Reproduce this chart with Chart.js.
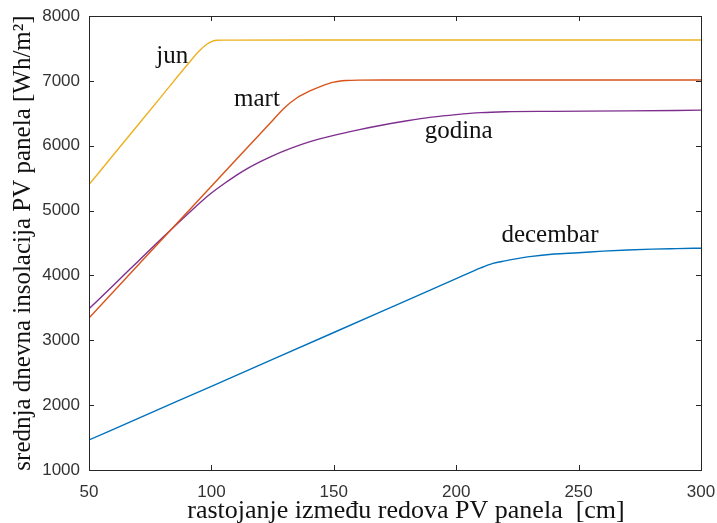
<!DOCTYPE html>
<html>
<head>
<meta charset="utf-8">
<script src="https://cdn.jsdelivr.net/npm/chart.js@4.4.1/dist/chart.umd.min.js"></script>
<style>
  html, body { margin: 0; padding: 0; background: #fff; }
  #wrap { width: 717px; height: 523px; }
</style>
</head>
<body>
<div id="wrap"><canvas id="chart" width="717" height="523"></canvas></div>
<script>
// values (x in cm, y in Wh/m2)
const junX = [50, 60, 70, 80, 90, 95, 98, 100, 102, 105, 150, 300];
const junY = [5400, 5860, 6320, 6780, 7240, 7460, 7560, 7605, 7625, 7628, 7630, 7630];

const martX = [50, 75, 100, 125, 130, 135, 140, 145, 150, 155, 160, 170, 300];
const martY = [3345, 4360, 5375, 6390, 6590, 6740, 6840, 6920, 6980, 7005, 7012, 7013, 7013];

const godinaX = [50, 60, 70, 80, 90, 95, 100, 105, 110, 115, 120, 125, 130, 140, 150, 160, 170, 180, 190, 200, 210, 220, 240, 270, 300];
const godinaY = [3486, 3850, 4215, 4580, 4935, 5110, 5270, 5410, 5540, 5655, 5755, 5845, 5925, 6060, 6160, 6245, 6320, 6385, 6440, 6480, 6510, 6524, 6530, 6537, 6548];

const decembarX = [50, 75, 100, 125, 150, 175, 200, 210, 215, 220, 225, 230, 240, 250, 260, 270, 280, 290, 300];
const decembarY = [1463, 1877, 2290, 2705, 3120, 3535, 3950, 4115, 4185, 4225, 4260, 4290, 4330, 4350, 4375, 4393, 4405, 4413, 4420];

const seriesNames = ['jun', 'mart', 'godina', 'decembar'];
const seriesColors = ['#EDB120', '#D95319', '#7E2F8E', '#0072BD'];

// text labels next to the curves, in data coordinates
const labelX = [84, 118.6, 201, 238.3];
const labelY = [7377, 6713, 6225, 4613];

const xTicks = [50, 100, 150, 200, 250, 300];
const yTicks = [1000, 2000, 3000, 4000, 5000, 6000, 7000, 8000];

const xTitle = 'rastojanje između redova PV panela  [cm]';
const yTitle = 'srednja dnevna insolacija PV panela [Wh/m²]';

const toPoints = (xs, ys) => xs.map((x, i) => ({ x, y: ys[i] }));
const allX = [junX, martX, godinaX, decembarX];
const allY = [junY, martY, godinaY, decembarY];

const datasets = seriesNames.map((name, i) => ({
  label: name,
  data: toPoints(allX[i], allY[i]),
  borderColor: seriesColors[i],
  backgroundColor: 'transparent',
  borderWidth: 1.4,
  pointRadius: 0,
  cubicInterpolationMode: 'monotone',
}));

const serif = '"Liberation Serif", "Times New Roman", serif';

// MATLAB-like box with inward ticks on all four sides, plus the text labels
const boxPlugin = {
  id: 'box',
  afterDatasetsDraw(chart) {
    const { ctx, chartArea: a, scales: { x, y } } = chart;
    const len = 5;
    ctx.save();
    ctx.strokeStyle = '#262626';
    ctx.lineWidth = 1;
    ctx.beginPath();
    for (const v of xTicks) {
      const px = Math.round(x.getPixelForValue(v)) + 0.5;
      ctx.moveTo(px, a.bottom); ctx.lineTo(px, a.bottom - len);
      ctx.moveTo(px, a.top); ctx.lineTo(px, a.top + len);
    }
    for (const v of yTicks) {
      const py = Math.round(y.getPixelForValue(v)) + 0.5;
      ctx.moveTo(a.left, py); ctx.lineTo(a.left + len, py);
      ctx.moveTo(a.right, py); ctx.lineTo(a.right - len, py);
    }
    ctx.stroke();
    ctx.strokeRect(Math.round(a.left) + 0.5, Math.round(a.top) + 0.5,
      Math.round(a.right - a.left), Math.round(a.bottom - a.top));

    ctx.fillStyle = '#111';
    ctx.font = '25px ' + serif;
    ctx.textAlign = 'center';
    ctx.textBaseline = 'middle';
    seriesNames.forEach((n, i) => {
      ctx.fillText(n, x.getPixelForValue(labelX[i]), y.getPixelForValue(labelY[i]));
    });

    // x axis title, sitting a little right of the axis centre as in the original
    ctx.font = '26px ' + serif;
    ctx.textBaseline = 'alphabetic';
    ctx.fillText(xTitle, (a.left + a.right) / 2 + 11, 518);
    ctx.restore();
  },
};

const tickFont = { family: '"Liberation Sans", Arial, sans-serif', size: 17 };

new Chart(document.getElementById('chart'), {
  type: 'line',
  data: { datasets },
  plugins: [boxPlugin],
  options: {
    responsive: false,
    animation: false,
    layout: { padding: { top: 16, right: 16, left: 0, bottom: 0 } },
    plugins: { legend: { display: false }, tooltip: { enabled: false } },
    scales: {
      x: {
        type: 'linear',
        min: 50, max: 300,
        afterBuildTicks: s => { s.ticks = xTicks.map(v => ({ value: v })); },
        afterFit: s => { s.height = 53; s.paddingRight = 0; s.paddingLeft = 0; },
        grid: { display: false, drawTicks: false },
        border: { display: false },
        ticks: { font: tickFont, color: '#333', padding: 12, maxRotation: 0, callback: v => String(v) },
      },
      y: {
        type: 'linear',
        min: 1000, max: 8000,
        afterBuildTicks: s => { s.ticks = yTicks.map(v => ({ value: v })); },
        afterFit: s => { s.width = 89; s.paddingTop = 0; s.paddingBottom = 0; },
        grid: { display: false, drawTicks: false },
        border: { display: false },
        ticks: { font: tickFont, color: '#333', padding: 9, callback: v => String(v) },
        title: { display: true, text: yTitle, font: { family: serif, size: 25 }, color: '#111', padding: { top: 8, bottom: 0 } },
      },
    },
  },
});
</script>
</body>
</html>
